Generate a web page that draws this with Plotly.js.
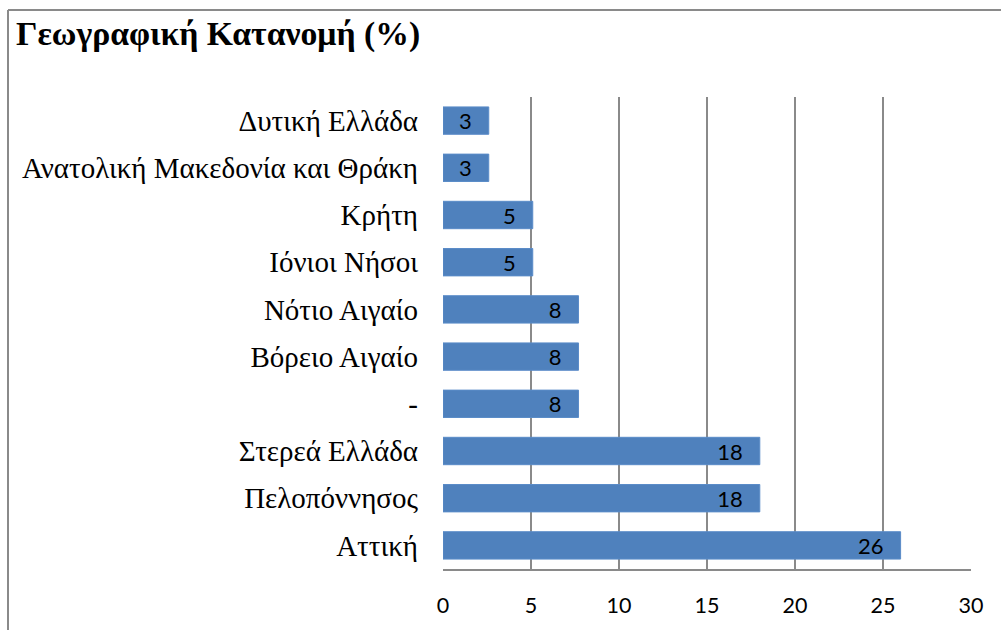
<!DOCTYPE html>
<html>
<head>
<meta charset="utf-8">
<script src="https://cdn.plot.ly/plotly-3.0.1.min.js"></script>
<style>html,body{margin:0;padding:0;background:#fff;}#chart{width:1001px;height:630px;}</style>
</head>
<body>
<div id="chart"></div>
<script>
// Categories listed bottom to top
const regions = ["Αττική", "Πελοπόννησος", "Στερεά Ελλάδα", "-", "Βόρειο Αιγαίο", "Νότιο Αιγαίο", "Ιόνιοι Νήσοι", "Κρήτη", "Ανατολική Μακεδονία και Θράκη", "Δυτική Ελλάδα"];
const shares = [26, 18, 18, 7.7, 7.7, 7.7, 5.1, 5.1, 2.6, 2.6];
const shareLabels = ["26", "18", "18", "8", "8", "8", "5", "5", "3", "3"];
const xTicks = [0, 5, 10, 15, 20, 25, 30];
const chartTitle = "Γεωγραφική Κατανομή (%)";

const W = 1001, H = 630;
const m = {l: 443, r: 30, t: 97, b: 61};
const pw = W - m.l - m.r, ph = H - m.t - m.b;
const fx = px => (px - m.l) / pw;
const fy = py => (H - m.b - py) / ph;

const trace = {
  type: "bar",
  orientation: "h",
  y: regions,
  x: shares,
  text: shareLabels.map(s => s + "\u00a0\u00a0\u2009"),
  textposition: "inside",
  insidetextanchor: "end",
  constraintext: "none",
  textangle: 0,
  textfont: {family: "Lato, 'Open Sans', sans-serif", size: 22, color: "#000"},
  marker: {color: "#4F81BD", line: {color: "#5B8CC8", width: 1}},
  width: 0.58,
  hoverinfo: "none",
  cliponaxis: false
};

const layout = {
  width: W, height: H,
  margin: m,
  paper_bgcolor: "#fff",
  plot_bgcolor: "#fff",
  showlegend: false,
  uniformtext: {mode: false},
  title: {
    text: "<b>" + chartTitle + "</b>",
    font: {family: "'Liberation Serif', 'DejaVu Serif', serif", size: 33.7, color: "#000"},
    xref: "container", x: 16 / W, xanchor: "left",
    yref: "container", y: 1 - 33 / H, yanchor: "middle"
  },
  xaxis: {
    range: [0, 30],
    tickvals: xTicks,
    ticktext: xTicks.map(String),
    showgrid: true,
    gridcolor: "#8a8a8a",
    gridwidth: 1.5,
    zeroline: false,
    showline: true,
    linecolor: "#8a8a8a",
    linewidth: 1.5,
    ticks: "",
    ticklabelstandoff: 17,
    tickfont: {family: "Lato, 'Open Sans', sans-serif", size: 21.5, color: "#000"},
    fixedrange: true
  },
  yaxis: {
    type: "category",
    categoryorder: "array",
    categoryarray: regions,
    tickvals: regions,
    showgrid: false,
    zeroline: false,
    showline: false,
    ticks: "",
    ticklabelstandoff: 24,
    tickfont: {family: "'Liberation Serif', 'DejaVu Serif', serif", size: 29, color: "#000"},
    fixedrange: true
  },
  shapes: [
    {type: "line", xref: "paper", yref: "paper", x0: fx(8), x1: fx(8), y0: fy(10), y1: fy(640), line: {color: "#8a8a8a", width: 2}},
    {type: "line", xref: "paper", yref: "paper", x0: fx(8), x1: fx(1010), y0: fy(10), y1: fy(10), line: {color: "#8a8a8a", width: 2}}
  ]
};

Plotly.newPlot("chart", [trace], layout, {staticPlot: true, displayModeBar: false});
</script>
</body>
</html>
